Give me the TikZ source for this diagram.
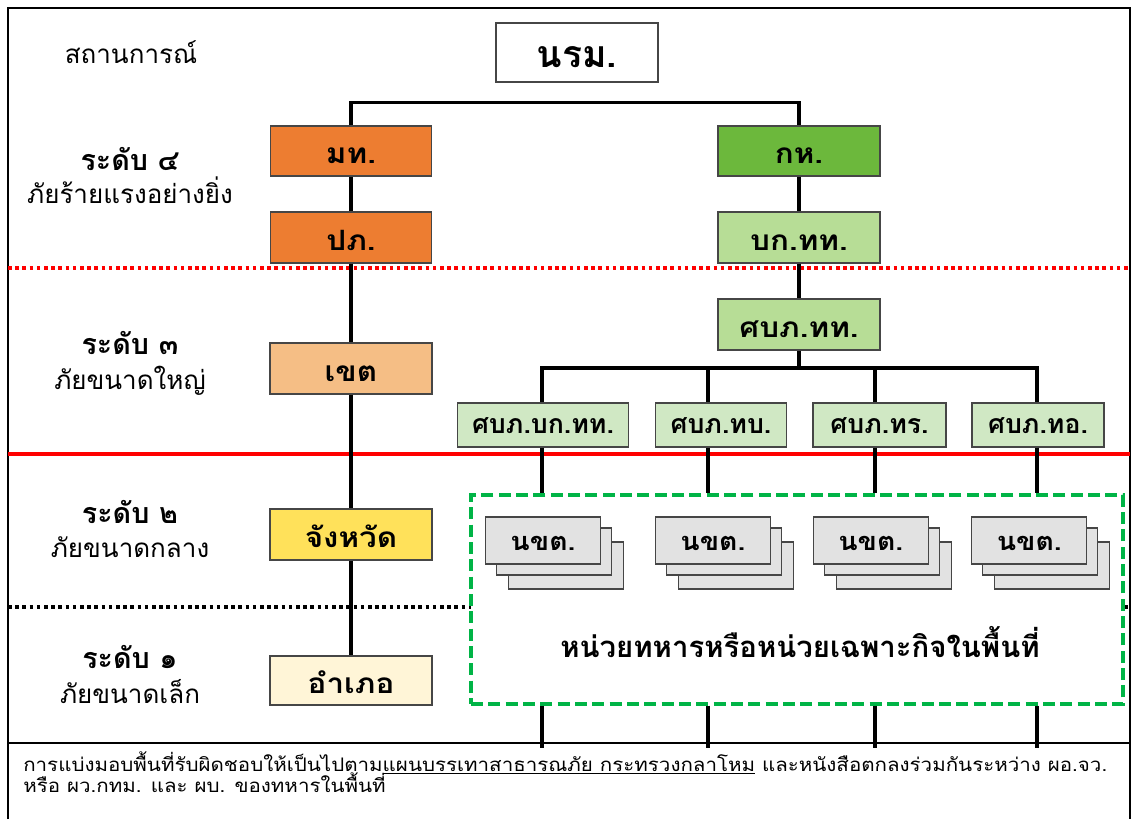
\documentclass[tikz,border=0pt]{standalone}
\usepackage{fontspec}
\setmainfont[Script=Thai]{Loma}
\newfontfamily\thainarrow[Script=Thai,FakeStretch=1.1]{Loma}
\newfontfamily\thaiwide[Script=Thai,FakeStretch=1.12]{Loma}
\definecolor{orangeC}{RGB}{237,125,49}
\definecolor{grnC}{RGB}{108,184,60}
\definecolor{lgrnC}{RGB}{183,221,150}
\definecolor{llgrnC}{RGB}{208,232,196}
\definecolor{peachC}{RGB}{245,190,133}
\definecolor{yelC}{RGB}{255,225,90}
\definecolor{creamC}{RGB}{255,245,215}
\definecolor{grayC}{RGB}{226,226,226}
\definecolor{gdashC}{RGB}{0,180,70}
\definecolor{boxline}{RGB}{70,70,70}
\definecolor{redC}{RGB}{255,0,0}
\begin{document}
\begin{tikzpicture}[x=0.75pt,y=-0.75pt,
  wh/.style 2 args={minimum width=#1*0.75pt,minimum height=#2*0.75pt},
  box/.style={draw=boxline,line width=0.8pt,inner sep=0pt,
    font=\thaiwide\bfseries\fontsize{21pt}{24pt}\selectfont,text height=19pt,text depth=0pt},
  sbox/.style={box,fill=llgrnC,font=\bfseries\fontsize{20pt}{24pt}\selectfont,text height=12.4pt},
  stk/.style={box,fill=grayC,wh={115}{47},font=\thaiwide\bfseries\fontsize{19pt}{24pt}\selectfont,text height=15.5pt},
  conn/.style={line width=2.3pt,black},
  lbl/.style={anchor=base,inner sep=0pt,font=\fontsize{19.5pt}{24pt}\selectfont},
  lblb/.style={lbl,font=\bfseries\fontsize{21.5pt}{24pt}\selectfont},
  notestyle/.style={anchor=base west,inner sep=0pt,font=\thainarrow\fontsize{14pt}{16pt}\selectfont}]
\useasboundingbox (0,0) rectangle (1132,819);

% frame
\draw[line width=1.6pt] (8,819) -- (8,8) -- (1130,8) -- (1130,819);
\draw[line width=1.2pt] (8,743) -- (1130,743);

% level separators
\draw[redC,line width=2.4pt,dash pattern=on 2.7pt off 2.7pt] (8,268) -- (1130,268);
\draw[redC,line width=3pt] (8,454) -- (1130,454);
\draw[black,line width=2.4pt,dash pattern=on 2.7pt off 2.7pt] (8,607) -- (1130,607);

% left labels
\node[lbl] (sit) at (131,63) {สถานการณ์};
\node[lblb] (l4) at (130,170) {ระดับ ๔};
\node[lbl] (l4d) at (130,203) {ภัยร้ายแรงอย่างยิ่ง};
\node[lblb] (l3) at (130,354) {ระดับ ๓};
\node[lbl] (l3d) at (130,389) {ภัยขนาดใหญ่};
\node[lblb] (l2) at (130,523) {ระดับ ๒};
\node[lbl] (l2d) at (130,557) {ภัยขนาดกลาง};
\node[lblb] (l1) at (130,668) {ระดับ ๑};
\node[lbl] (l1d) at (130,703) {ภัยขนาดเล็ก};

% green area
\node[draw=gdashC,fill=white,line width=2.4pt,dash pattern=on 9pt off 4pt,
  wh={652}{209},inner sep=0pt] (area) at (797,599.5) {};
\node[anchor=base,inner sep=0pt,font=\bfseries\fontsize{22pt}{24pt}\selectfont] (areatxt) at (800,657)
  {หน่วยทหารหรือหน่วยเฉพาะกิจในพื้นที่};

% boxes
\node[box,fill=white,wh={162}{59},font=\bfseries\fontsize{28pt}{32pt}\selectfont,text height=22.6pt] (nrm) at (577,52.5) {นรม.};
\node[box,fill=orangeC,wh={161}{50}] (mt) at (351,151) {มท.};
\node[box,fill=orangeC,wh={161}{51}] (pp) at (351,237.5) {ปภ.};
\node[box,fill=peachC,wh={162}{51}] (khet) at (351,368.5) {เขต};
\node[box,fill=yelC,wh={162}{51}] (cw) at (351,534.5) {จังหวัด};
\node[box,fill=creamC,wh={162}{49}] (amp) at (351,680.5) {อำเภอ};
\node[box,fill=grnC,wh={162}{50}] (kh) at (799,151) {กห.};
\node[box,fill=lgrnC,wh={162}{51}] (bk) at (799,237.5) {บก.ทท.};
\node[box,fill=lgrnC,wh={162}{51}] (sb) at (799,324.5) {ศบภ.ทท.};
\node[sbox,wh={171}{44}] (s1) at (543,425) {ศบภ.บก.ทท.};
\node[sbox,wh={131}{44}] (s2) at (721,425) {ศบภ.ทบ.};
\node[sbox,wh={133}{44}] (s3) at (879.5,425) {ศบภ.ทร.};
\node[sbox,wh={132}{44}] (s4) at (1038,425) {ศบภ.ทอ.};

% unit stacks
\foreach \L [count=\i] in {485.5,655.4,813.3,971.8}{
  \node[stk] (n\i c) at (\L+80.5,565.5) {};
  \node[stk] (n\i b) at (\L+68.5,551.5) {};
  \node[stk] (n\i) at (\L+57.5,540.5) {นขต.};
}

% connectors
\draw[conn] (mt.north) -- ++(0,-23) -| (kh.north);
\draw[conn] (mt) -- (pp);
\draw[conn] (pp) -- (khet);
\draw[conn] (khet) -- (cw);
\draw[conn] (cw) -- (amp);
\draw[conn] (kh) -- (bk);
\draw[conn] (bk) -- (sb);
\coordinate (v1) at (542,368);
\coordinate (v2) at (708,368);
\coordinate (v3) at (875,368);
\coordinate (v4) at (1037,368);
\coordinate (bot) at (8,748);
\draw[conn] (sb.south) -- (sb.south |- v1);
\draw[conn,line cap=rect] (v1) -- (v4);
\foreach \k in {1,2,3,4}{
  \draw[conn] (v\k) -- (v\k |- s\k.north);
  \draw[conn] (v\k |- s\k.south) -- (v\k |- area.north);
  \draw[conn] (v\k |- area.south) -- (v\k |- bot);
}

% note
\node[notestyle] (note1) at (23,771) {การแบ่งมอบพื้นที่รับผิดชอบให้เป็นไปตาม\underline{แผนบรรเทาสาธารณภัย กระทรวงกลาโหม} และหนังสือตกลงร่วมกันระหว่าง ผอ.จว.};
\node[notestyle] (note2) at (23,792) {หรือ ผว.กทม. และ ผบ. ของทหารในพื้นที่};
\end{tikzpicture}
\end{document}
